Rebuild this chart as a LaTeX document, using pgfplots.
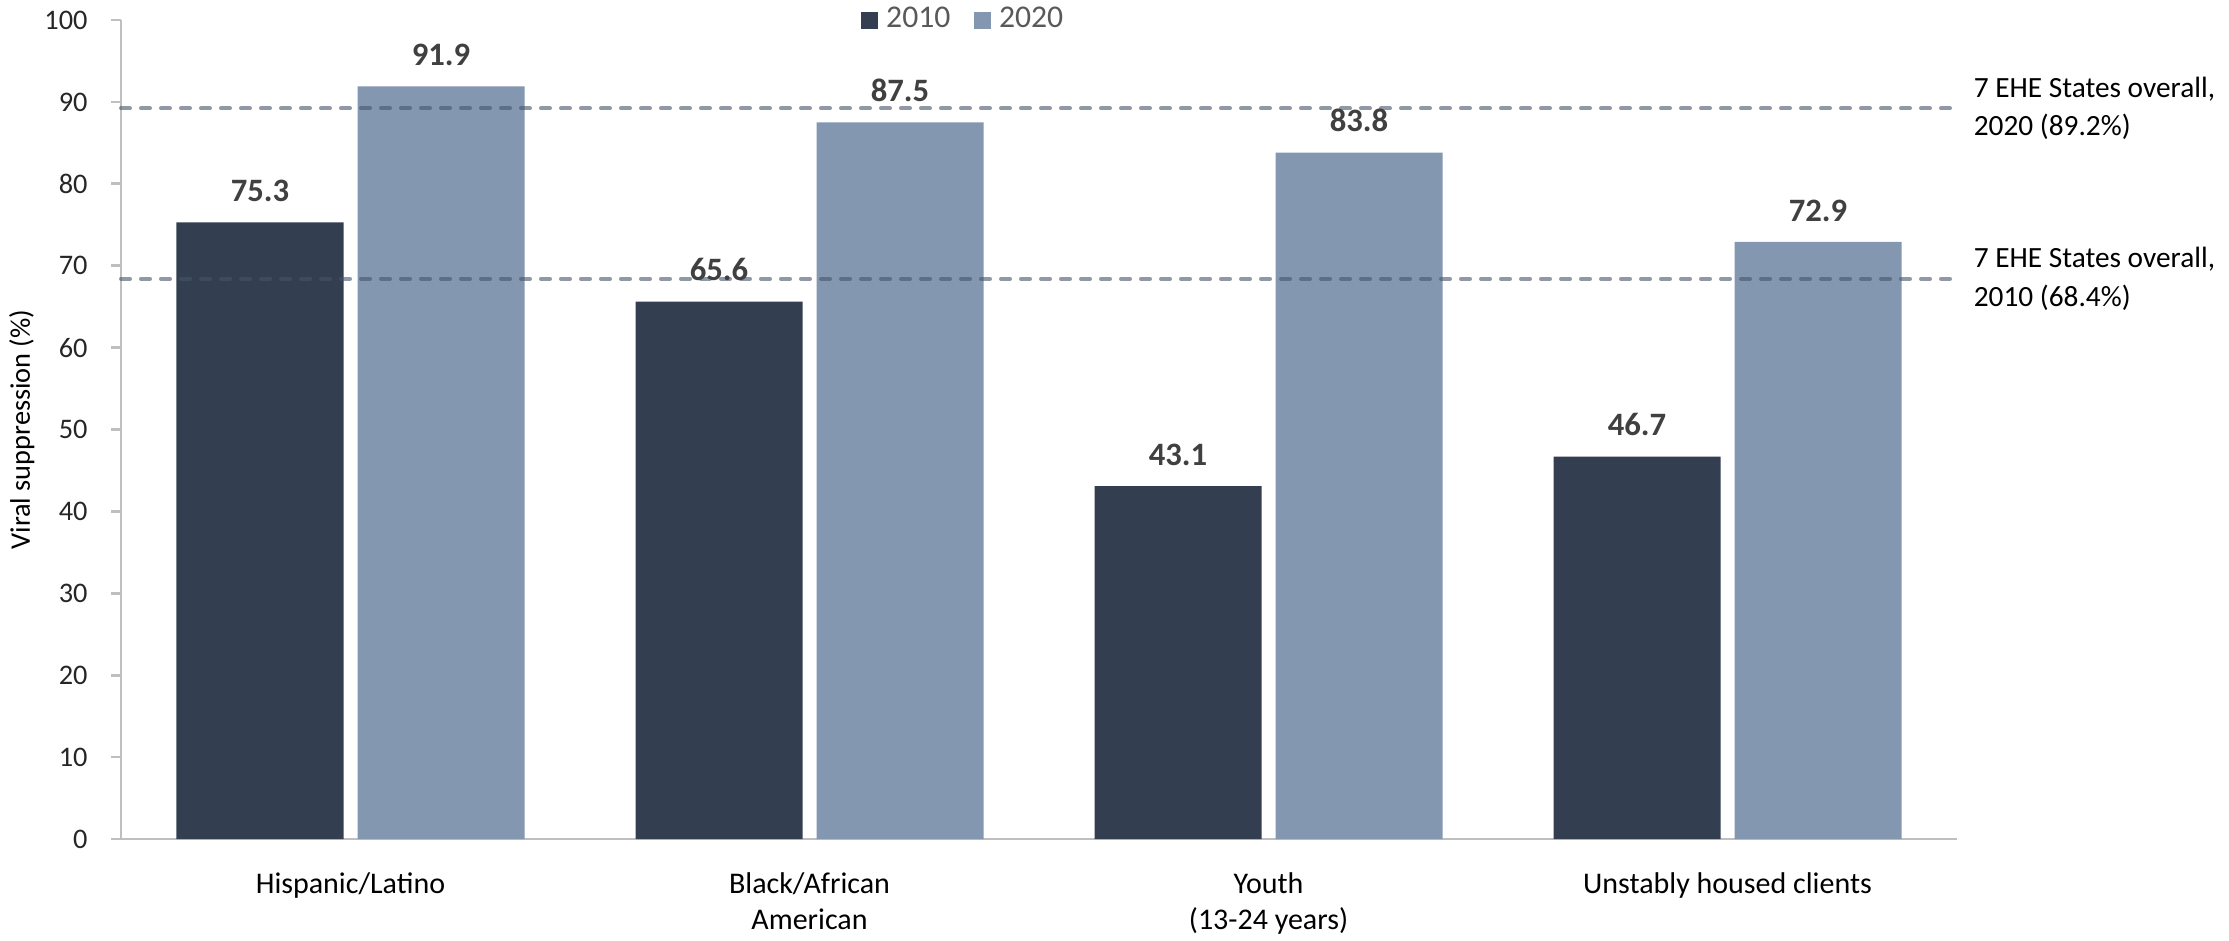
\documentclass[border=0pt]{standalone}
\usepackage{fontspec}
\setmainfont{Carlito}
\usepackage{pgfplots}
\pgfplotsset{compat=1.18}
\definecolor{c2010}{HTML}{333F50}
\definecolor{c2020}{HTML}{8497B0}
\definecolor{refl}{HTML}{44546A}
\definecolor{axgray}{HTML}{BFBFBF}
\definecolor{lbl}{HTML}{404040}
\definecolor{leg}{HTML}{595959}
\begin{document}
\begin{tikzpicture}
\useasboundingbox (-36.3pt,-30.3pt) rectangle (632.4pt,251.7pt);
\begin{axis}[
  at={(0pt,0pt)}, anchor=south west,
  scale only axis, width=550.8pt, height=245.7pt,
  xmin=-0.5, xmax=3.5, ymin=0, ymax=100,
  ybar, bar width=50.1pt,
  axis x line*=bottom, axis y line*=left,
  axis line style={axgray, line width=0.8pt},
  ytick={0,10,...,100},
  xtick={0,1,2,3},
  xticklabels={Hispanic/Latino,{Black/African\\American},{Youth\\(13-24 years)},Unstably housed clients},
  x tick style={draw=none},
  y tick style={axgray, line width=0.8pt},
  tick align=outside, major tick length=3pt,
  /pgf/number format/assume math mode=true,
  yticklabel style={font=\fontsize{8.5}{10}\selectfont, text=black!85, xshift=-3.5pt},
  xticklabel style={font=\fontsize{9}{11}\selectfont, align=center, yshift=-3.5pt, text=black},
  ylabel={Viral suppression (\%)},
  every axis y label/.style={at={(axis description cs:-0.054,0.5)}, rotate=90, anchor=center, font=\fontsize{8.5}{10}\selectfont, text=black},
  legend style={draw=none, fill=none, at={(rel axis cs:0.459,1.0)}, anchor=center,
    font=\fontsize{9.5}{11}\selectfont, text=leg,
    legend columns=2, nodes={inner sep=1pt},
    /tikz/every odd column/.append style={column sep=1.5pt},
    /tikz/every even column/.append style={column sep=6pt}},
  legend image code/.code={\fill[#1] (0pt,-2.55pt) rectangle (5.1pt,2.55pt);},
  clip=false,
]
\addplot[fill=c2010, draw=none, bar shift=-27.15pt,
  nodes near coords, nodes near coords style={font=\bfseries\fontsize{9.8}{11}\selectfont, text=lbl, anchor=south, inner sep=0pt, yshift=6pt},
  /pgf/number format/.cd, fixed, fixed zerofill, precision=1]
  coordinates {(0,75.3) (1,65.6) (2,43.1) (3,46.7)};
\addlegendentry{2010}
\addplot[fill=c2020, draw=none, bar shift=27.15pt,
  nodes near coords, nodes near coords style={font=\bfseries\fontsize{9.8}{11}\selectfont, text=lbl, anchor=south, inner sep=0pt, yshift=6pt},
  /pgf/number format/.cd, fixed, fixed zerofill, precision=1]
  coordinates {(0,91.9) (1,87.5) (2,83.8) (3,72.9)};
\addlegendentry{2020}
\addplot[sharp plot, forget plot, refl, opacity=0.6, line width=1.2pt, line cap=round, dash pattern=on 2.7pt off 3.3pt]
  coordinates {(-0.5,89.2) (3.5,89.2)};
\addplot[sharp plot, forget plot, refl, opacity=0.6, line width=1.2pt, line cap=round, dash pattern=on 2.7pt off 3.3pt]
  coordinates {(-0.5,68.4) (3.5,68.4)};
\node[anchor=west, align=left, font=\fontsize{8.8}{11.5}\selectfont, text=black, xshift=1.5pt] at (axis cs:3.5,89.2) {7 EHE States overall,\\2020 (89.2\%)};
\node[anchor=west, align=left, font=\fontsize{8.8}{11.5}\selectfont, text=black, xshift=1.5pt] at (axis cs:3.5,68.4) {7 EHE States overall,\\2010 (68.4\%)};
\end{axis}
\end{tikzpicture}
\end{document}
